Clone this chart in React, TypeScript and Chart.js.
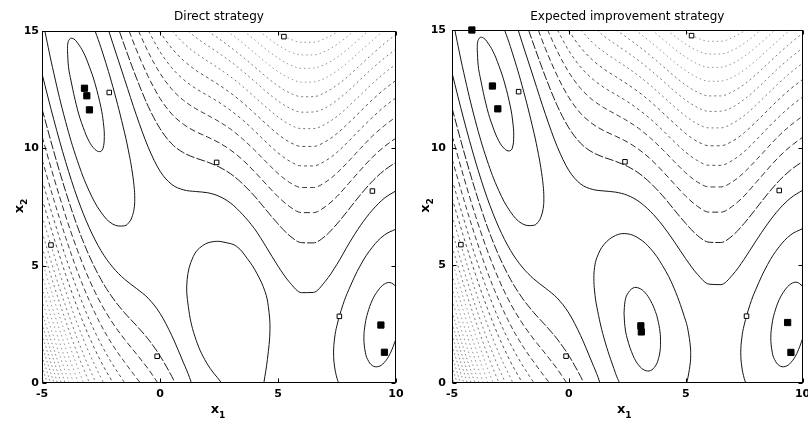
import React, { useEffect, useRef } from 'react';
import { Chart, registerables } from 'chart.js';

Chart.register(...registerables);

type P = [number, number];

// ---------- axes / text ----------
const xTicks = [-5, 0, 5, 10];
const yTicks = [0, 5, 10, 15];
const panelTitles = ['Direct strategy', 'Expected improvement strategy'];

// ---------- sampled points (x1, x2) ----------
const initialDesign: P[] = [
  [5.25, 14.76], [-2.15, 12.38], [2.4, 9.4], [9.0, 8.18], [-4.62, 5.88], [7.6, 2.84], [-0.12, 1.14],
];
const directSampled: P[] = [
  [-3.2, 12.56], [-3.1, 12.24], [-2.99, 11.64], [9.36, 2.47], [9.51, 1.31],
];
const eiSampled: P[] = [
  [-4.15, 15.0], [-3.27, 12.62], [-3.04, 11.65], [3.08, 2.43], [3.1, 2.17], [9.36, 2.57], [9.5, 1.3],
];

// ---------- contour lines (x1, x2) ----------
// level 0 (innermost)
const lvl0TopLeft: P[] = [
  [-3.92, 14.17], [-3.9, 14.5], [-3.8, 14.68], [-3.65, 14.66], [-3.5, 14.5], [-3.25, 14.1], [-3.0, 13.5],
  [-2.75, 12.75], [-2.5, 11.73], [-2.4, 11.09], [-2.36, 10.5], [-2.42, 9.98], [-2.55, 9.86], [-2.75, 9.95],
  [-3.0, 10.29], [-3.25, 10.88], [-3.5, 11.67], [-3.8, 13.02], [-3.88, 13.5], [-3.92, 14.17],
];
const lvl0Right: P[] = [
  [10, 4.12], [9.75, 4.28], [9.5, 4.21], [9.25, 3.96], [9.0, 3.54], [8.8, 2.99], [8.7, 2.55], [8.64, 1.93],
  [8.7, 1.31], [8.8, 1.0], [9.0, 0.74], [9.25, 0.7], [9.5, 0.87], [9.75, 1.25], [10, 1.88],
];
const lvl0Middle: P[] = [
  [2.36, 2.96], [2.4, 3.45], [2.5, 3.77], [2.75, 4.04], [3.0, 4.03], [3.25, 3.85], [3.5, 3.49], [3.7, 3.04],
  [3.8, 2.71], [3.9, 2.17], [3.92, 1.75], [3.9, 1.35], [3.8, 0.92], [3.7, 0.72], [3.5, 0.53], [3.25, 0.54],
  [3.0, 0.74], [2.75, 1.16], [2.5, 1.88], [2.4, 2.39], [2.36, 2.96],
];
// level 1
const lvl1Loop: P[] = [
  [-4.88, 15], [-4.5, 13.2], [-4, 11.14], [-3.5, 9.47], [-3, 8.18], [-2.5, 7.28], [-2, 6.77], [-1.5, 6.7],
  [-1.3, 6.86], [-1.2, 7.04], [-1.1, 7.41], [-1.07, 7.85], [-1.1, 8.4], [-1.2, 9.15], [-1.3, 9.71],
  [-1.5, 10.66], [-2, 12.63], [-2.5, 14.29], [-2.75, 15],
];
const lvl1MiddleDirect: P[] = [
  [2.61, 0], [1.98, 0.85], [1.48, 1.98], [1.2, 3.26], [1.15, 4.4], [1.41, 5.39], [1.8, 5.85], [2.3, 6.03],
  [2.8, 5.98], [3.25, 5.82], [3.7, 5.3], [4.1, 4.68], [4.45, 3.9], [4.59, 3.26], [4.66, 2.27], [4.55, 1.0],
  [4.4, 0],
];
const lvl1MiddleEI: P[] = [
  [2.17, 0], [2, 0.4], [1.5, 1.92], [1.2, 3.22], [1.1, 3.91], [1.07, 4.45], [1.1, 4.9], [1.2, 5.33],
  [1.5, 5.88], [2, 6.27], [2.5, 6.34], [3, 6.14], [3.5, 5.7], [4, 5.0], [4.5, 4.03], [5, 2.64], [5.1, 2.23],
  [5.2, 1.53], [5.21, 1.21], [5.2, 0.9], [5.1, 0.26], [5.04, 0],
];
const lvl1Right: P[] = [
  [7.57, 0], [7.5, 0.2], [7.4, 0.68], [7.355, 1.28], [7.4, 1.92], [7.5, 2.46], [7.75, 3.33], [8, 3.98],
  [8.5, 5.03], [9, 5.79], [9.5, 6.3], [10, 6.56],
];
// upper-right family
const lvl2UpperEI: P[] = [
  [-2.17, 15], [-2, 14.47], [-1.5, 12.94], [-1, 11.41], [-0.5, 10.05], [0, 9.03], [0.5, 8.46], [1, 8.23],
  [1.5, 8.16], [2, 8.11], [2.5, 7.98], [3, 7.71], [3.5, 7.28], [4, 6.71], [4.5, 6.02], [5, 5.28], [5.5, 4.62],
  [6, 4.2], [6.5, 4.18], [7, 4.59], [7.5, 5.26], [8, 6.03], [8.5, 6.76], [9, 7.39], [9.5, 7.87], [10, 8.19],
];
const lvl2UpperDirect: P[] = [
  [-2.17, 15], [-2, 14.47], [-1.5, 12.94], [-1, 11.41], [-0.5, 10.05], [0, 9.03], [0.5, 8.46], [1, 8.23],
  [1.5, 8.16], [2, 8.11], [2.5, 7.96], [3, 7.66], [3.5, 7.18], [4, 6.58], [4.5, 5.8], [5, 4.98], [5.5, 4.28],
  [6, 3.85], [6.5, 3.86], [7, 4.33], [7.5, 5.06], [8, 5.93], [8.5, 6.72], [9, 7.37], [9.5, 7.87], [10, 8.19],
];
const lvl3Upper: P[] = [
  [-1.725, 15], [-1.5, 14.36], [-1, 13.0], [-0.5, 11.79], [0, 10.84], [0.5, 10.19], [1, 9.81], [1.5, 9.59],
  [2, 9.42], [2.5, 9.21], [3, 8.91], [3.5, 8.49], [4, 7.97], [4.5, 7.37], [5, 6.78], [5.5, 6.27], [6, 5.98],
  [6.5, 5.97], [7, 6.26], [7.5, 6.78], [8, 7.4], [8.5, 8.03], [9, 8.6], [9.5, 9.06], [10, 9.41],
];
const lvl4Upper: P[] = [
  [-1.31, 15], [-1, 14.2], [-0.5, 13.06], [0, 12.13], [0.5, 11.46], [1, 11.02], [1.5, 10.72], [2, 10.49],
  [2.5, 10.24], [3, 9.92], [3.5, 9.51], [4, 9.01], [4.5, 8.47], [5, 7.94], [5.5, 7.51], [6, 7.26], [6.5, 7.26],
  [7, 7.51], [7.5, 7.95], [8, 8.51], [8.5, 9.08], [9, 9.62], [9.5, 10.07], [10, 10.44],
];
const lvl5Upper: P[] = [
  [-0.91, 15], [-0.5, 14.11], [0, 13.2], [0.5, 12.52], [1, 12.04], [1.5, 11.7], [2, 11.42], [2.5, 11.14],
  [3, 10.81], [3.5, 10.4], [4, 9.93], [4.5, 9.42], [5, 8.93], [5.5, 8.54], [6, 8.33], [6.5, 8.33], [7, 8.55],
  [7.5, 8.95], [8, 9.46], [8.5, 10.0], [9, 10.52], [9.5, 10.96], [10, 11.34],
];
const lvl6Upper: P[] = [
  [-0.49, 15], [0, 14.12], [0.5, 13.43], [1, 12.93], [1.5, 12.56], [2, 12.26], [2.5, 11.96], [3, 11.61],
  [3.5, 11.21], [4, 10.75], [4.5, 10.26], [5, 9.81], [5.5, 9.45], [6, 9.25], [6.5, 9.25], [7, 9.46],
  [7.5, 9.83], [8, 10.31], [8.5, 10.83], [9, 11.32], [9.5, 11.77], [10, 12.15],
];
const lvl7Upper: P[] = [
  [-0.03, 15], [0.5, 14.26], [1, 13.74], [1.5, 13.34], [2, 13.02], [2.5, 12.7], [3, 12.35], [3.5, 11.95],
  [4, 11.5], [4.5, 11.04], [5, 10.6], [5.5, 10.26], [6, 10.08], [6.5, 10.08], [7, 10.28], [7.5, 10.63],
  [8, 11.09], [8.5, 11.58], [9, 12.07], [9.5, 12.51], [10, 12.9],
];
const lvl8Upper: P[] = [
  [0.51, 15], [1, 14.48], [1.5, 14.07], [2, 13.73], [2.5, 13.4], [3, 13.04], [3.5, 12.64], [4, 12.2],
  [4.5, 11.75], [5, 11.34], [5.5, 11.01], [6, 10.84], [6.5, 10.84], [7, 11.03], [7.5, 11.36], [8, 11.8],
  [8.5, 12.28], [9, 12.76], [9.5, 13.2], [10, 13.59],
];
const lvl9Upper: P[] = [
  [1.2, 15], [1.5, 14.74], [2, 14.39], [2.5, 14.05], [3, 13.69], [3.5, 13.29], [4, 12.86], [4.5, 12.42],
  [5, 12.02], [5.5, 11.71], [6, 11.54], [6.5, 11.55], [7, 11.72], [7.5, 12.05], [8, 12.47], [8.5, 12.94],
  [9, 13.41], [9.5, 13.84], [10, 14.24],
];
const lvl10Upper: P[] = [
  [2.02, 15], [2.5, 14.67], [3, 14.3], [3.5, 13.9], [4, 13.48], [4.5, 13.05], [5, 12.66], [5.5, 12.36],
  [6, 12.2], [6.5, 12.2], [7, 12.38], [7.5, 12.69], [8, 13.1], [8.5, 13.56], [9, 14.02], [9.5, 14.46],
  [10, 14.86],
];
const lvl11Upper: P[] = [
  [2.84, 15], [3, 14.88], [3.5, 14.49], [4, 14.07], [4.5, 13.65], [5, 13.27], [5.5, 12.98], [6, 12.82],
  [6.5, 12.83], [7, 12.99], [7.5, 13.3], [8, 13.7], [8.5, 14.15], [9, 14.6], [9.46, 15],
];
const lvl12Upper: P[] = [
  [3.55, 15], [4, 14.63], [4.5, 14.21], [5, 13.85], [5.5, 13.56], [6, 13.41], [6.5, 13.42], [7, 13.58],
  [7.5, 13.88], [8, 14.27], [8.5, 14.71], [8.82, 15],
];
const lvl13Upper: P[] = [
  [4.2, 15], [4.5, 14.76], [5, 14.4], [5.5, 14.12], [6, 13.98], [6.5, 13.98], [7, 14.14], [7.5, 14.43],
  [8, 14.82], [8.21, 15],
];
const lvl14Upper: P[] = [
  [4.9, 15], [5, 14.93], [5.5, 14.66], [6, 14.52], [6.5, 14.52], [7, 14.68], [7.5, 14.96], [7.55, 15],
];
// lower-left family
const lvl2Lower: P[] = [
  [-5, 13.18], [-4.5, 11.22], [-4, 9.43], [-3.5, 7.88], [-3, 6.62], [-2.5, 5.64], [-2, 4.93], [-1.5, 4.42],
  [-1, 4.03], [-0.5, 3.61], [0, 2.97], [0.5, 2.02], [1, 0.85], [1.25, 0.24], [1.33, 0],
];
const lvl3Lower: P[] = [
  [-5, 11.69], [-4.5, 9.86], [-4, 8.17], [-3.5, 6.67], [-3, 5.42], [-2.5, 4.41], [-2, 3.62], [-1.5, 2.99],
  [-1, 2.45], [-0.5, 1.87], [0, 1.16], [0.5, 0.28], [0.64, 0],
];
const lvl4Lower: P[] = [
  [-5, 10.52], [-4.5, 8.76], [-4, 7.12], [-3.5, 5.66], [-3, 4.41], [-2.5, 3.38], [-2, 2.55], [-1.5, 1.86],
  [-1, 1.24], [-0.5, 0.6], [-0.09, 0],
];
const lvl5Lower: P[] = [
  [-5, 9.53], [-4.5, 7.81], [-4, 6.21], [-3.5, 4.76], [-3, 3.52], [-2.5, 2.47], [-2, 1.61], [-1.5, 0.89],
  [-1, 0.22], [-0.83, 0],
];
const lvl6Lower: P[] = [
  [-5, 8.65], [-4.5, 6.97], [-4, 5.38], [-3.5, 3.96], [-3, 2.71], [-2.5, 1.66], [-2, 0.78], [-1.75, 0.39], [-1.49, 0],
];
const lvl7Lower: P[] = [
  [-5, 7.86], [-4.5, 6.2], [-4, 4.63], [-3.5, 3.21], [-3, 1.97], [-2.5, 0.91], [-1.99, 0],
];
const lvl8Lower: P[] = [
  [-5, 7.12], [-4.5, 5.48], [-4, 3.93], [-3.5, 2.52], [-3, 1.28], [-2.5, 0.22], [-2.39, 0],
];
const lvl9Lower: P[] = [[-5, 6.44], [-4.5, 4.81], [-4, 3.28], [-3.5, 1.88], [-3, 0.64], [-2.71, 0]];
const lvl10Lower: P[] = [[-5, 5.8], [-4.5, 4.18], [-4, 2.66], [-3.5, 1.26], [-2.99, 0]];
const lvl11Lower: P[] = [[-5, 5.19], [-4.5, 3.59], [-4, 2.07], [-3.5, 0.68], [-3.24, 0]];
const lvl12Lower: P[] = [[-5, 4.61], [-4.5, 3.02], [-4, 1.51], [-3.5, 0.12], [-3.46, 0]];
const lvl13Lower: P[] = [[-5, 4.06], [-4.5, 2.47], [-4, 0.97], [-3.75, 0.26], [-3.66, 0]];
const lvl14Lower: P[] = [[-5, 3.53], [-4.5, 1.95], [-4, 0.45], [-3.84, 0]];
const lvl15Lower: P[] = [[-5, 3.02], [-4.5, 1.45], [-4.02, 0]];
const lvl16Lower: P[] = [[-5, 2.53], [-4.5, 0.96], [-4.25, 0.2], [-4.18, 0]];
const lvl17Lower: P[] = [[-5, 2.05], [-4.5, 0.49], [-4.34, 0]];
const lvl18Lower: P[] = [[-5, 1.59], [-4.75, 0.8], [-4.49, 0]];
const lvl19Lower: P[] = [[-5, 1.14], [-4.75, 0.36], [-4.64, 0]];
const lvl20Lower: P[] = [[-5, 0.7], [-4.85, 0.23], [-4.77, 0]];
const lvl21Lower: P[] = [[-5, 0.28], [-4.91, 0]];

type Contour = { level: number; pts: P[]; loop?: boolean };

const sharedContours: Contour[] = [
  { level: 0, pts: lvl0TopLeft, loop: true },
  { level: 0, pts: lvl0Right, loop: true },
  { level: 1, pts: lvl1Loop, loop: true },
  { level: 1, pts: lvl1Right, loop: true },
  { level: 3, pts: lvl3Upper }, { level: 4, pts: lvl4Upper },
  { level: 5, pts: lvl5Upper }, { level: 6, pts: lvl6Upper }, { level: 7, pts: lvl7Upper },
  { level: 8, pts: lvl8Upper }, { level: 9, pts: lvl9Upper }, { level: 10, pts: lvl10Upper },
  { level: 11, pts: lvl11Upper }, { level: 12, pts: lvl12Upper }, { level: 13, pts: lvl13Upper },
  { level: 14, pts: lvl14Upper },
  { level: 2, pts: lvl2Lower }, { level: 3, pts: lvl3Lower }, { level: 4, pts: lvl4Lower },
  { level: 5, pts: lvl5Lower }, { level: 6, pts: lvl6Lower }, { level: 7, pts: lvl7Lower },
  { level: 8, pts: lvl8Lower }, { level: 9, pts: lvl9Lower }, { level: 10, pts: lvl10Lower },
  { level: 11, pts: lvl11Lower }, { level: 12, pts: lvl12Lower }, { level: 13, pts: lvl13Lower },
  { level: 14, pts: lvl14Lower }, { level: 15, pts: lvl15Lower }, { level: 16, pts: lvl16Lower },
  { level: 17, pts: lvl17Lower }, { level: 18, pts: lvl18Lower }, { level: 19, pts: lvl19Lower },
  { level: 20, pts: lvl20Lower }, { level: 21, pts: lvl21Lower },
];

const panelContours: Contour[][] = [
  [...sharedContours, { level: 2, pts: lvl2UpperDirect }, { level: 1, pts: lvl1MiddleDirect, loop: true }],
  [
    ...sharedContours,
    { level: 2, pts: lvl2UpperEI },
    { level: 0, pts: lvl0Middle, loop: true },
    { level: 1, pts: lvl1MiddleEI, loop: true },
  ],
];
const panelSampled: P[][] = [directSampled, eiSampled];

// ---------- styles ----------
const levelStyle = (lv: number): { color: string; dash: number[] } => {
  if (lv <= 2) return { color: '#141414', dash: [] };
  if (lv === 3) return { color: '#1e1e1e', dash: [9, 2] };
  if (lv === 4) return { color: '#2e2e2e', dash: [6, 3] };
  if (lv === 5) return { color: '#404040', dash: [5, 3] };
  if (lv <= 7) return { color: '#555555', dash: [3, 3] };
  if (lv <= 10) return { color: '#787878', dash: [2, 3] };
  if (lv <= 14) return { color: '#959595', dash: [1.5, 3] };
  return { color: '#858585', dash: [1.5, 2.5] };
};

const panelLayout = [
  { axisLeft: 42, padRight: 8, top: 31, yPad: 3, yLabelX: 23, xLabelShift: -1 },
  { axisLeft: 48, padRight: 3, top: 30, yPad: 6, yLabelX: 25, xLabelShift: -3 },
];
const AXIS_BOTTOM_H = 38;
const FONT = '"DejaVu Sans", "Liberation Sans", Arial, sans-serif';

const decorPlugin = (idx: number) => ({
  id: 'decor' + idx,
  afterDraw(chart: any) {
    const { ctx, chartArea: a, scales } = chart;
    const lay = panelLayout[idx];
    ctx.save();
    ctx.strokeStyle = '#000';
    ctx.lineWidth = 1;
    ctx.setLineDash([]);
    const L = Math.round(a.left) + 0.5, R = Math.round(a.right) - 0.5;
    const T = Math.round(a.top) + 0.5, B = Math.round(a.bottom) - 0.5;
    ctx.strokeRect(L, T, R - L, B - T);
    ctx.beginPath();
    for (const v of xTicks) {
      const px = Math.round(scales.x.getPixelForValue(v)) + 0.5;
      ctx.moveTo(px, B); ctx.lineTo(px, B - 4);
      ctx.moveTo(px, T); ctx.lineTo(px, T + 4);
    }
    for (const v of yTicks) {
      const py = Math.round(scales.y.getPixelForValue(v)) + 0.5;
      ctx.moveTo(L, py); ctx.lineTo(L + 4, py);
      ctx.moveTo(R, py); ctx.lineTo(R - 4, py);
    }
    ctx.stroke();

    ctx.fillStyle = '#000';
    // title
    ctx.font = `12px ${FONT}`;
    ctx.textAlign = 'center';
    ctx.textBaseline = 'alphabetic';
    ctx.fillText(panelTitles[idx], (a.left + a.right) / 2, 20);

    // x1 label
    const cx = (a.left + a.right) / 2 + lay.xLabelShift;
    ctx.font = `bold 13px ${FONT}`;
    const wx = ctx.measureText('x').width;
    ctx.font = `bold 9px ${FONT}`;
    const w1 = ctx.measureText('1').width;
    const x0 = cx - (wx + w1) / 2;
    ctx.textAlign = 'left';
    ctx.font = `bold 13px ${FONT}`;
    ctx.fillText('x', x0, 413);
    ctx.font = `bold 9px ${FONT}`;
    ctx.fillText('1', x0 + wx, 418);

    // x2 label (rotated)
    const cy = (a.top + a.bottom) / 2 - 1;
    ctx.translate(lay.yLabelX, cy);
    ctx.rotate(-Math.PI / 2);
    ctx.font = `bold 13px ${FONT}`;
    const wy = ctx.measureText('x').width;
    ctx.font = `bold 9px ${FONT}`;
    const w2 = ctx.measureText('2').width;
    const y0 = -(wy + w2) / 2;
    ctx.font = `bold 13px ${FONT}`;
    ctx.fillText('x', y0, 0);
    ctx.font = `bold 9px ${FONT}`;
    ctx.fillText('2', y0 + wy, 4);
    ctx.restore();
  },
});

const toXY = (pts: P[]) => pts.map(([x, y]) => ({ x, y }));

function makeChart(canvas: HTMLCanvasElement, idx: number) {
  const lay = panelLayout[idx];
  const datasets: any[] = [];
  datasets.push({
    label: 'sampled',
    data: toXY(panelSampled[idx]),
    showLine: false,
    pointStyle: 'rect',
    pointRadius: 4.4,
    backgroundColor: '#000',
    borderColor: '#000',
    borderWidth: 1,
    clip: false,
    order: 0,
  });
  datasets.push({
    label: 'initial',
    data: toXY(initialDesign),
    showLine: false,
    pointStyle: 'rect',
    pointRadius: 3.2,
    backgroundColor: '#fff',
    borderColor: '#000',
    borderWidth: 1,
    clip: false,
    order: 1,
  });
  for (const c of panelContours[idx]) {
    const st = levelStyle(c.level);
    datasets.push({
      label: 'level ' + c.level,
      data: toXY(c.pts),
      showLine: true,
      pointRadius: 0,
      borderColor: st.color,
      borderDash: st.dash,
      borderWidth: 1,
      tension: c.loop ? 0.4 : 0,
      cubicInterpolationMode: c.loop ? 'default' : 'monotone',
      order: 2,
    });
  }
  const tickFont = { family: FONT, size: 11, weight: 'bold' as const };
  return new Chart(canvas, {
    type: 'scatter',
    data: { datasets },
    plugins: [decorPlugin(idx)],
    options: {
      responsive: false,
      animation: false,
      devicePixelRatio: 1,
      events: [],
      layout: { padding: { left: 0, right: lay.padRight, top: lay.top, bottom: 0 } },
      plugins: { legend: { display: false }, tooltip: { enabled: false }, title: { display: false } },
      scales: {
        x: {
          type: 'linear',
          min: -5,
          max: 10,
          afterBuildTicks: (s: any) => { s.ticks = xTicks.map((v) => ({ value: v })); },
          afterFit: (s: any) => {
            s.height = AXIS_BOTTOM_H;
            s.paddingLeft = 0; s.paddingRight = 0; s.paddingTop = 0; s.paddingBottom = 0;
          },
          grid: { display: false, drawTicks: false },
          border: { display: false },
          ticks: { color: '#000', font: tickFont, padding: 5, maxRotation: 0, autoSkip: false },
        },
        y: {
          type: 'linear',
          min: 0,
          max: 15,
          afterBuildTicks: (s: any) => { s.ticks = yTicks.map((v) => ({ value: v })); },
          afterFit: (s: any) => {
            s.width = lay.axisLeft;
            s.paddingLeft = 0; s.paddingRight = 0; s.paddingTop = 0; s.paddingBottom = 0;
          },
          grid: { display: false, drawTicks: false },
          border: { display: false },
          ticks: { color: '#000', font: tickFont, padding: lay.yPad, autoSkip: false },
        },
      },
    },
  } as any);
}

export default function App() {
  const leftRef = useRef<HTMLCanvasElement>(null);
  const rightRef = useRef<HTMLCanvasElement>(null);
  useEffect(() => {
    const c1 = makeChart(leftRef.current as HTMLCanvasElement, 0);
    const c2 = makeChart(rightRef.current as HTMLCanvasElement, 1);
    return () => {
      c1.destroy();
      c2.destroy();
    };
  }, []);
  const cs: React.CSSProperties = { width: 404, height: 421, display: 'block' };
  return (
    <div style={{ position: 'absolute', left: 0, top: 0, width: 808, height: 421, background: '#fff', display: 'flex', overflow: 'hidden' }}>
      <canvas ref={leftRef} width={404} height={421} style={cs} />
      <canvas ref={rightRef} width={404} height={421} style={cs} />
    </div>
  );
}
